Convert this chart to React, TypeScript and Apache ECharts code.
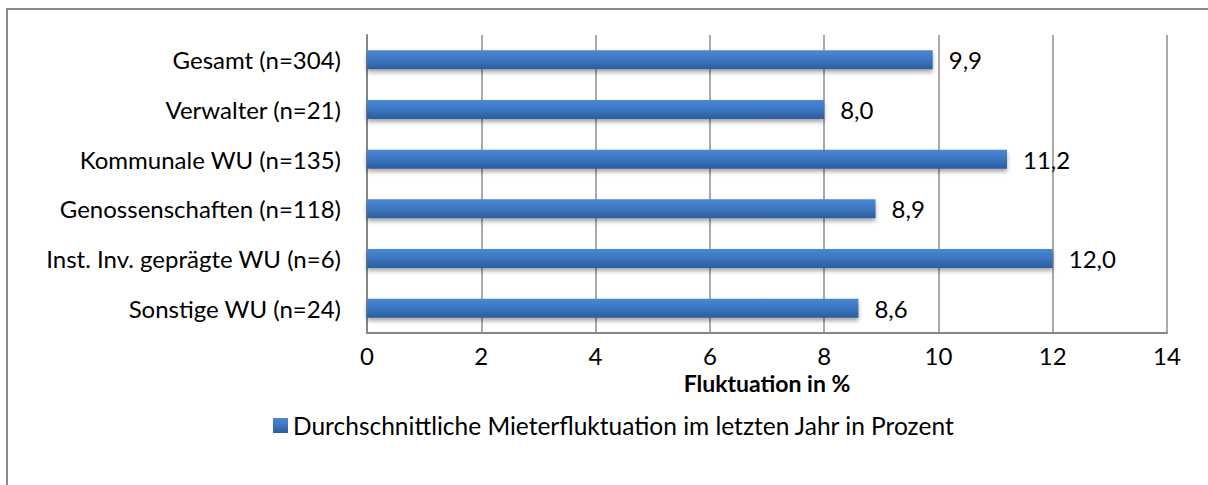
import React, { useEffect, useRef } from "react";
import * as echarts from "echarts";

const categories = [
  "Gesamt (n=304)",
  "Verwalter (n=21)",
  "Kommunale WU (n=135)",
  "Genossenschaften (n=118)",
  "Inst. Inv. geprägte WU (n=6)",
  "Sonstige WU (n=24)",
];
const values = [9.9, 8.0, 11.2, 8.9, 12.0, 8.6];
const seriesName = "Durchschnittliche Mieterfluktuation im letzten Jahr in Prozent";
const axisTitle = "Fluktuation in %";

const FONT = "Lato, 'Open Sans', sans-serif";

export default function App() {
  const ref = useRef<HTMLDivElement>(null);
  useEffect(() => {
    if (!ref.current) return;
    const chart = echarts.init(ref.current, null, { renderer: "svg" });
    const barColor = new echarts.graphic.LinearGradient(0, 0, 0, 1, [
      { offset: 0, color: "#4a88d4" },
      { offset: 0.5, color: "#3b76c2" },
      { offset: 1, color: "#2c5c9c" },
    ]);
    chart.setOption({
      animation: false,
      backgroundColor: "#ffffff",
      textStyle: { fontFamily: FONT },
      graphic: [
        {
          type: "polyline",
          shape: { points: [[7, 485], [7, 9], [1208, 9]] },
          style: { stroke: "#8a8a8a", lineWidth: 2, fill: "none" },
          silent: true,
        },
      ],
      grid: { left: 367, right: 41, top: 35, bottom: 152, containLabel: false },
      legend: {
        left: 268,
        top: 408,
        itemWidth: 15,
        itemHeight: 15,
        itemGap: 6,
        icon: "rect",
        textStyle: { fontSize: 24.5, color: "#000", fontFamily: FONT },
        data: [seriesName],
      },
      xAxis: {
        type: "value",
        min: 0,
        max: 14,
        interval: 2,
        name: axisTitle,
        nameLocation: "middle",
        nameGap: 38,
        nameTextStyle: { fontSize: 23, fontWeight: "bold", color: "#000", fontFamily: FONT },
        axisLine: { show: true, lineStyle: { color: "#868686", width: 2 } },
        axisTick: { show: false },
        axisLabel: { fontSize: 24, color: "#000", margin: 10, fontFamily: FONT },
        splitLine: { show: true, lineStyle: { color: "#8c8c8c", width: 1.5 } },
      },
      yAxis: {
        type: "category",
        inverse: true,
        data: categories,
        axisLine: { show: true, lineStyle: { color: "#868686", width: 2 } },
        axisTick: { show: false },
        axisLabel: { fontSize: 24, color: "#000", margin: 26, fontFamily: FONT },
        splitLine: { show: false },
      },
      series: [
        {
          name: seriesName,
          type: "bar",
          data: values,
          barWidth: 19,
          itemStyle: {
            color: barColor,
            shadowColor: "rgba(0,0,0,0.35)",
            shadowBlur: 4,
            shadowOffsetY: 3,
          },
          label: {
            show: true,
            position: "right",
            distance: 16,
            fontSize: 24,
            color: "#000",
            fontFamily: FONT,
            formatter: (p: any) => p.value.toFixed(1).replace(".", ","),
          },
        },
      ],
    });
    return () => chart.dispose();
  }, []);
  return (
    <div
      ref={ref}
      style={{ position: "fixed", left: 0, top: 0, width: 1208, height: 485 }}
    />
  );
}
